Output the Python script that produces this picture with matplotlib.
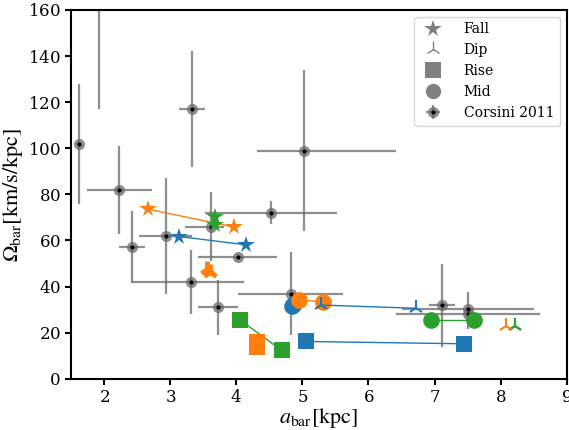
"""Pattern speed vs bar length: simulation phases against Corsini 2011."""

import matplotlib

matplotlib.use("Agg")
import matplotlib.pyplot as plt
from matplotlib.lines import Line2D

plt.rcParams["font.family"] = "DejaVu Serif"
plt.rcParams["mathtext.fontset"] = "stix"
plt.rcParams["axes.formatter.use_mathtext"] = True

# Corsini 2011 measurements: a_bar, Omega_bar and asymmetric errors
obs_x = [1.62, 1.92, 2.23, 3.33, 5.02, 2.42, 2.93, 3.32, 3.72, 3.62, 4.02, 4.52,
         4.82, 7.11, 7.51, 7.51]
obs_y = [102, 172, 82, 117, 99, 57, 62, 42, 31, 66, 53, 72, 37, 32, 30.5, 28]
obs_xlo = [0.05, 0.0, 0.49, 0.2, 0.7, 0.2, 0.4, 0.9, 0.3, 0.4, 0.6, 1.0, 0.8,
           0.2, 1.0, 1.09]
obs_xhi = [0.05, 0.0, 0.49, 0.2, 1.4, 0.2, 0.4, 0.79, 0.3, 0.2, 0.6, 1.0, 0.8,
           0.2, 1.0, 1.09]
obs_ylo = [26, 55, 19, 25, 35, 15.6, 25, 13.7, 12, 15, 1, 5, 18, 18, 9, 1]
obs_yhi = [26, 55, 19, 25, 35, 15.6, 25, 13.7, 12, 15, 1, 5, 18, 18, 7, 1]

# simulations: (start, end) pairs per phase, keyed by colour
fall = {
    "tab:orange": ([2.66, 3.97], [73.6, 65.8]),
    "tab:blue": ([3.14, 4.15], [61.7, 58.1]),
    "tab:green": ([3.67, 3.67], [70.0, 66.5]),
}
dip = {
    "tab:orange": ([3.55, 3.60], [47.5, 46.5]),
    "tab:blue": ([5.28, 6.72], [32.0, 30.6]),
    "tab:green": ([8.21, 8.21], [22.7, 22.7]),
}
dip_extra = {"tab:orange": ([8.08], [22.7])}
rise = {
    "tab:green": ([4.05, 4.69], [25.6, 12.3]),
    "tab:orange": ([4.31, 4.32], [15.9, 14.0]),
    "tab:blue": ([5.05, 7.44], [16.2, 15.2]),
}
mid = {
    "tab:blue": ([4.87, 4.84], [32.5, 31.8]),
    "tab:orange": ([4.95, 5.31], [34.3, 33.3]),
    "tab:green": ([6.94, 7.60], [25.3, 25.3]),
}

fig = plt.figure(figsize=(5.69, 4.30), dpi=100)
ax = fig.add_axes([0.125, 0.119, 0.871, 0.858])

eb = ax.errorbar(obs_x, obs_y, xerr=[obs_xlo, obs_xhi],
                 yerr=[obs_ylo, obs_yhi], fmt="o", ms=8, color="dimgray",
                 mew=0, elinewidth=1.6, alpha=0.75, capsize=0, zorder=1)
(dots,) = ax.plot(obs_x, obs_y, ls="none", marker="o", ms=3, color="k",
                  mew=0, zorder=1.5)

for color, (xs, ys) in fall.items():
    ax.plot(xs, ys, "-", color=color, lw=1, marker="*", ms=13, mew=0, zorder=3)
for color, (xs, ys) in rise.items():
    ax.plot(xs, ys, "-", color=color, lw=1, marker="s", ms=11, mew=0, zorder=3)
for color, (xs, ys) in mid.items():
    ax.plot(xs, ys, "-", color=color, lw=1, marker="o", ms=12, mew=0, zorder=3)
for color, (xs, ys) in dip.items():
    thick = 3.5 if color == "tab:orange" else 1.5
    ax.plot(xs, ys, "-", color=color, lw=1, marker="2", ms=11, mew=thick,
            zorder=4)
for color, (xs, ys) in dip_extra.items():
    ax.plot(xs, ys, ls="none", color=color, marker="2", ms=11, mew=1.5,
            zorder=4)

ax.set_xlim(1.5, 9)
ax.set_ylim(0, 160)
ax.set_xticks(range(2, 10))
ax.set_yticks(range(0, 161, 20))
ax.tick_params(labelsize=12, width=1.5, length=4)
for spine in ax.spines.values():
    spine.set_linewidth(1.5)
ax.set_xlabel(r"$a_{\rm bar}[{\rm kpc}]$", fontsize=16, labelpad=0)
ax.set_ylabel(r"$\Omega_{\rm bar}[{\rm km/s/kpc}]$", fontsize=16, labelpad=2)

handles = [
    Line2D([], [], ls="none", marker="*", ms=13, color="gray", mew=0),
    Line2D([], [], ls="none", marker="2", ms=11, color="gray", mew=1.0),
    Line2D([], [], ls="none", marker="s", ms=11, color="gray", mew=0),
    Line2D([], [], ls="none", marker="o", ms=11, color="gray", mew=0),
    (eb, dots),
]
ax.legend(handles, ["Fall", "Dip", "Rise", "Mid", "Corsini 2011"],
          loc="upper right", fontsize=10, handletextpad=1.2,
          labelspacing=0.5, borderpad=0.4)

fig.savefig("out.png", dpi=100)
